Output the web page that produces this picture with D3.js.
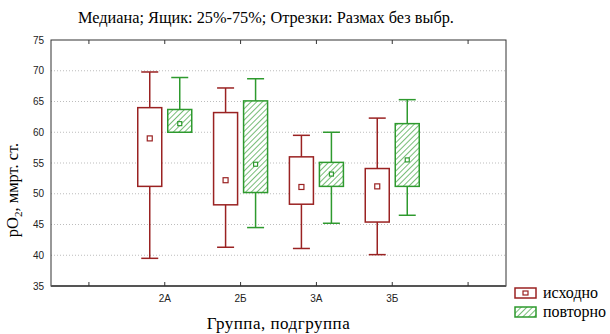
<!DOCTYPE html>
<html>
<head>
<meta charset="utf-8">
<script src="https://cdn.jsdelivr.net/npm/d3@7"></script>
<style>
  body { margin: 0; background: #fff; }
  svg { display: block; }
</style>
</head>
<body>
<script>
// data
var xTicks = ["", "2А", "2Б", "3А", "3Б", ""];
var groups = ["2А", "2Б", "3А", "3Б"];
var seriesNames = ["исходно", "повторно"];
// [min, q1, median, q3, max]
var initial = [
  [39.5, 51.2, 59.0, 64.0, 69.8],
  [41.3, 48.2, 52.2, 63.2, 67.2],
  [41.1, 48.3, 51.1, 56.0, 59.5],
  [40.1, 45.4, 51.2, 54.1, 62.3]
];
var repeated = [
  [60.0, 60.0, 61.4, 63.7, 68.9],
  [44.5, 50.2, 54.8, 65.1, 68.7],
  [45.2, 51.2, 53.2, 55.1, 60.0],
  [46.5, 51.2, 55.5, 61.4, 65.3]
];
var yTicks = [35, 40, 45, 50, 55, 60, 65, 70, 75];

var W = 610, H = 334;
var margin = {top: 40, right: 104, bottom: 48, left: 51},
    width = W - margin.left - margin.right,
    height = H - margin.top - margin.bottom;

var red = "#9a2222", green = "#2e9a2e";
var serif = "'Liberation Serif', 'Times New Roman', serif";

const svg = d3.select("body").append("svg")
    .attr("width", W)
    .attr("height", H);

const defs = svg.append("defs");
const pat = defs.append("pattern")
    .attr("id", "hatch")
    .attr("patternUnits", "userSpaceOnUse")
    .attr("width", 4).attr("height", 4)
    .attr("patternTransform", "rotate(45)");
pat.append("rect").attr("width", 4).attr("height", 4).attr("fill", "#fff");
pat.append("line").attr("x1", 0).attr("y1", 0).attr("x2", 0).attr("y2", 4)
    .attr("stroke", green).attr("stroke-width", 1.3);

const g = svg.append("g").attr("transform", `translate(${margin.left},${margin.top})`);

const x = d3.scaleBand()
    .domain(d3.range(xTicks.length))
    .range([0, width]);

const y = d3.scaleLinear()
    .domain([35, 75])
    .range([height, 0]);

// grid
g.selectAll(".grid").data(yTicks.filter(d => d > 35 && d < 75)).enter()
  .append("line")
    .attr("x1", 0).attr("x2", width)
    .attr("y1", d => y(d)).attr("y2", d => y(d))
    .attr("stroke", "#bdbdbd")
    .attr("stroke-dasharray", "1,2");

// frame
g.append("rect")
    .attr("width", width).attr("height", height)
    .attr("fill", "none").attr("stroke", "#333").attr("stroke-width", 1);
g.append("line")
    .attr("x1", 0).attr("x2", width).attr("y1", height).attr("y2", height)
    .attr("stroke", "#555").attr("stroke-width", 2);

// axes
const xAxis = g.append("g")
    .attr("transform", `translate(0,${height})`)
    .call(d3.axisBottom(x).tickSize(-4).tickPadding(9).tickFormat(i => xTicks[i]));
const xTop = g.append("g")
    .call(d3.axisTop(x).tickSize(-4).tickFormat(""));
const yAxis = g.append("g")
    .call(d3.axisLeft(y).tickValues(yTicks).tickSize(0).tickPadding(7));

[xAxis, xTop, yAxis].forEach(a => {
  a.select(".domain").remove();
  a.selectAll("line").attr("stroke", "#333");
  a.selectAll("text")
    .attr("font-family", "'Liberation Sans Narrow', 'Liberation Sans', Arial, sans-serif")
    .attr("font-size", 10).attr("fill", "#222");
});

// boxes
var offset = 15, bw = 24, cap = 17;
function drawBoxes(data, dx, color, fill, mark) {
  const bg = g.selectAll(null).data(data).enter().append("g")
      .attr("transform", (d, i) => `translate(${x(i + 1) + x.bandwidth() / 2 + dx},0)`);
  bg.append("line")
      .attr("y1", d => y(d[0])).attr("y2", d => y(d[4]))
      .attr("stroke", color).attr("stroke-width", 1.5);
  bg.append("line")
      .attr("x1", -cap / 2).attr("x2", cap / 2)
      .attr("y1", d => y(d[4])).attr("y2", d => y(d[4]))
      .attr("stroke", color).attr("stroke-width", 1.5);
  bg.append("line")
      .attr("x1", -cap / 2).attr("x2", cap / 2)
      .attr("y1", d => y(d[0])).attr("y2", d => y(d[0]))
      .attr("stroke", color).attr("stroke-width", 1.5);
  bg.append("rect")
      .attr("x", -bw / 2).attr("width", bw)
      .attr("y", d => y(d[3])).attr("height", d => y(d[1]) - y(d[3]))
      .attr("fill", fill).attr("stroke", color).attr("stroke-width", 1.5);
  bg.append("rect")
      .attr("x", -mark / 2).attr("width", mark)
      .attr("y", d => y(d[2]) - mark / 2).attr("height", mark)
      .attr("fill", "#fff").attr("stroke", color).attr("stroke-width", 1.2);
}
drawBoxes(initial, -offset, red, "#fff", 5);
drawBoxes(repeated, offset, green, "url(#hatch)", 4);

// title and labels
svg.append("text")
    .attr("x", 266).attr("y", 23)
    .attr("text-anchor", "middle")
    .attr("font-family", serif)
    .attr("font-size", 16.3)
    .text("Медиана; Ящик: 25%-75%; Отрезки: Размах без выбр.");

svg.append("text")
    .attr("x", margin.left + width / 2).attr("y", 329)
    .attr("text-anchor", "middle")
    .attr("font-family", serif)
    .attr("font-size", 17)
    .attr("letter-spacing", 0.5)
    .text("Группа, подгруппа");

const yl = svg.append("text")
    .attr("transform", "translate(18,190) rotate(-90)")
    .attr("text-anchor", "middle")
    .attr("font-family", serif)
    .attr("font-size", 16.5);
yl.append("tspan").text("pO");
yl.append("tspan").attr("font-size", 11).attr("dy", 4).text("2");
yl.append("tspan").attr("dy", -4).text(", ммрт. ст.");

// legend
const leg = svg.append("g").attr("transform", "translate(515,288)");
const li = leg.selectAll("g").data(seriesNames).enter().append("g")
    .attr("transform", (d, i) => `translate(0,${i * 19})`);
li.append("rect")
    .attr("width", 21).attr("height", 10)
    .attr("fill", (d, i) => i ? "url(#hatch)" : "#fff")
    .attr("stroke", (d, i) => i ? green : red).attr("stroke-width", 1.5);
li.filter((d, i) => i === 0).append("rect")
    .attr("x", 8).attr("y", 3).attr("width", 5).attr("height", 4)
    .attr("fill", "#fff").attr("stroke", red).attr("stroke-width", 1.2);
li.append("text")
    .attr("x", 28).attr("y", 10)
    .attr("font-family", serif)
    .attr("font-size", 16)
    .text(d => d);
</script>
</body>
</html>
